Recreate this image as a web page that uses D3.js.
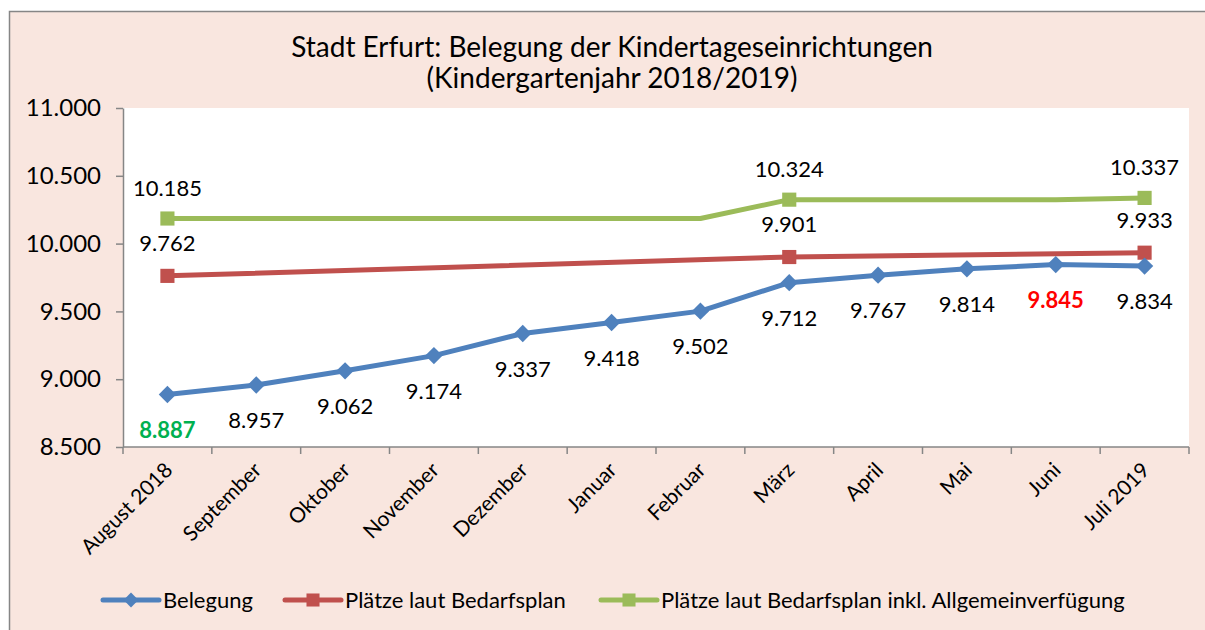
<!DOCTYPE html>
<html>
<head>
<meta charset="utf-8">
<script src="https://cdn.jsdelivr.net/npm/d3@7"></script>
<style>
  body { margin: 0; background: #fff; }
  text { font-family: Lato, "Open Sans", sans-serif; }
</style>
</head>
<body>
<div id="chart"></div>
<script>
// data
const months = ['August 2018', 'September', 'Oktober', 'November', 'Dezember', 'Januar',
    'Februar', 'März', 'April', 'Mai', 'Juni', 'Juli 2019'];
const belegung = [8887, 8957, 9062, 9174, 9337, 9418, 9502, 9712, 9767, 9814, 9845, 9834];
// Plätze laut Bedarfsplan: only three reported values
const plaetze = [9762, null, null, null, null, null, null, 9901, null, null, null, 9933];
const plaetzeInkl = [10185, 10185, 10185, 10185, 10185, 10185, 10185, 10324, 10324, 10324, 10324, 10337];
const markedMonths = [0, 7, 11];
const yTicks = [8500, 9000, 9500, 10000, 10500, 11000];
const titleLines = ['Stadt Erfurt: Belegung der Kindertageseinrichtungen', '(Kindergartenjahr 2018/2019)'];
const legendNames = ['Belegung', 'Plätze laut Bedarfsplan', 'Plätze laut Bedarfsplan inkl. Allgemeinverfügung'];

const W = 1205, H = 630;
const colors = { blue: '#4f81bd', red: '#c0504d', green: '#9bbb59' };
const axisColor = '#868686';

const de = d3.formatLocale({ decimal: ',', thousands: '.', grouping: [3], currency: ['', ' €'] });
const fmt = de.format(',');

const svg = d3.select('#chart').append('svg')
    .attr('width', W)
    .attr('height', H);

// chart background
svg.append('rect')
    .attr('x', 9.5).attr('y', 11.5)
    .attr('width', W).attr('height', H)
    .attr('fill', '#f9e6df')
    .attr('stroke', axisColor)
    .attr('stroke-width', 1.5);

const plot = { left: 123, right: 1189, top: 108, bottom: 447 };

svg.append('rect')
    .attr('x', plot.left).attr('y', plot.top)
    .attr('width', plot.right - plot.left).attr('height', plot.bottom - plot.top)
    .attr('fill', '#fff');

const x = d3.scaleBand().domain(d3.range(months.length)).range([plot.left, plot.right]);
const cx = i => x(i) + x.bandwidth() / 2;
const y = d3.scaleLinear().domain([8500, 11000]).range([plot.bottom, plot.top]);

// title
svg.append('text')
    .attr('x', 612).attr('y', 57)
    .attr('text-anchor', 'middle')
    .style('font-size', '28px')
    .selectAll('tspan')
    .data(titleLines)
    .join('tspan')
    .attr('x', 612)
    .attr('dy', (d, i) => i === 0 ? 0 : 31)
    .text(d => d);

// y axis
const yAxis = svg.append('g')
    .attr('transform', `translate(${plot.left},0)`)
    .call(d3.axisLeft(y).tickValues(yTicks).tickFormat(fmt).tickSize(7).tickSizeOuter(0).tickPadding(15));
yAxis.selectAll('path, line').attr('stroke', axisColor).attr('stroke-width', 1.5);
yAxis.selectAll('text').style('font-size', '24px').style('fill', '#000');

// x axis: line + boundary ticks
const xAxis = svg.append('g');
xAxis.append('line')
    .attr('x1', plot.left).attr('x2', plot.right)
    .attr('y1', plot.bottom).attr('y2', plot.bottom)
    .attr('stroke', axisColor).attr('stroke-width', 1.5);
xAxis.selectAll('line.tick')
    .data(d3.range(months.length + 1))
    .join('line')
    .attr('class', 'tick')
    .attr('x1', i => i < months.length ? x(i) : plot.right)
    .attr('x2', i => i < months.length ? x(i) : plot.right)
    .attr('y1', plot.bottom).attr('y2', plot.bottom + 7)
    .attr('stroke', axisColor).attr('stroke-width', 1.5);
xAxis.selectAll('text')
    .data(months)
    .join('text')
    .attr('transform', (d, i) => `translate(${cx(i) - 4},${plot.bottom + 14}) rotate(-45)`)
    .attr('text-anchor', 'end')
    .attr('dy', '0.7em')
    .style('font-size', '21px')
    .text(d => d);

// lines
const line = d3.line()
    .x(d => cx(d.i))
    .y(d => y(d.v));

function series(values) {
    return values.map((v, i) => ({ i, v })).filter(d => d.v != null);
}

const seriesDefs = [
    { vals: plaetzeInkl, color: colors.green, marker: 'square', marks: markedMonths },
    { vals: plaetze, color: colors.red, marker: 'square', marks: markedMonths },
    { vals: belegung, color: colors.blue, marker: 'diamond', marks: d3.range(months.length) }
];

seriesDefs.forEach(s => {
    const pts = series(s.vals);
    svg.append('path')
        .datum(pts)
        .attr('d', line)
        .attr('fill', 'none')
        .attr('stroke', s.color)
        .attr('stroke-width', 5)
        .attr('stroke-linejoin', 'round');
    const mk = pts.filter(d => s.marks.includes(d.i));
    const sym = s.marker === 'diamond'
        ? d3.symbol().type(d3.symbolSquare).size(150)
        : d3.symbol().type(d3.symbolSquare).size(200);
    svg.selectAll(null)
        .data(mk)
        .join('path')
        .attr('d', sym)
        .attr('transform', d => `translate(${cx(d.i)},${y(d.v)})` + (s.marker === 'diamond' ? ' rotate(45)' : ''))
        .attr('fill', s.color);
});

// data labels
const labelSize = '22px';
svg.selectAll(null)
    .data(series(belegung))
    .join('text')
    .attr('x', d => cx(d.i))
    .attr('y', d => y(d.v) + 43)
    .attr('text-anchor', 'middle')
    .style('font-size', labelSize)
    .style('font-weight', d => (d.i === 0 || d.i === 10) ? 'bold' : 'normal')
    .style('fill', d => d.i === 0 ? '#00b050' : d.i === 10 ? '#ff0000' : '#000')
    .text(d => fmt(d.v));

svg.selectAll(null)
    .data(series(plaetze))
    .join('text')
    .attr('x', d => cx(d.i))
    .attr('y', d => y(d.v) - 25)
    .attr('text-anchor', 'middle')
    .style('font-size', labelSize)
    .text(d => fmt(d.v));

svg.selectAll(null)
    .data(series(plaetzeInkl).filter(d => markedMonths.includes(d.i)))
    .join('text')
    .attr('x', d => cx(d.i))
    .attr('y', d => y(d.v) - 23)
    .attr('text-anchor', 'middle')
    .style('font-size', labelSize)
    .text(d => fmt(d.v));

// legend
const legendX = [103, 285, 601];
const legendColors = [colors.blue, colors.red, colors.green];
const legend = svg.append('g').attr('transform', 'translate(0,600)');
legendNames.forEach((name, i) => {
    const g = legend.append('g').attr('transform', `translate(${legendX[i]},0)`);
    g.append('line')
        .attr('x1', 0).attr('x2', 56)
        .attr('stroke', legendColors[i]).attr('stroke-width', 5)
        .attr('stroke-linecap', 'round');
    g.append('path')
        .attr('d', d3.symbol().type(d3.symbolSquare).size(i === 0 ? 110 : 170))
        .attr('transform', `translate(28,0)` + (i === 0 ? ' rotate(45)' : ''))
        .attr('fill', legendColors[i]);
    g.append('text')
        .attr('x', 60)
        .attr('dy', '0.35em')
        .style('font-size', '22px')
        .text(name);
});
</script>
</body>
</html>
